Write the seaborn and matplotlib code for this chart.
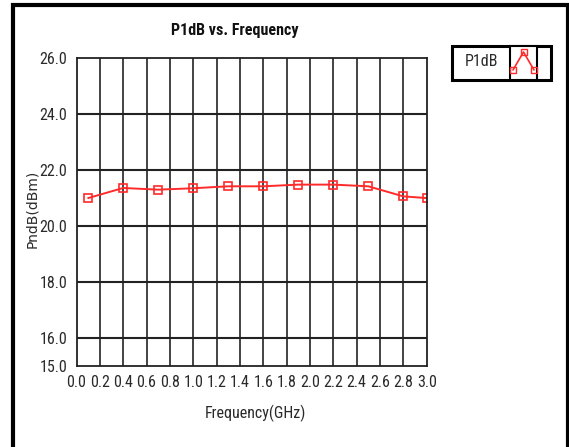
import matplotlib
matplotlib.use("Agg")
import matplotlib.pyplot as plt
import seaborn as sns
import pandas as pd
from matplotlib import font_manager as fm
from matplotlib.patches import Rectangle
from matplotlib.lines import Line2D
from matplotlib.ticker import MultipleLocator, FixedLocator

freq_ghz = [0.1, 0.4, 0.7, 1.0, 1.3, 1.6, 1.9, 2.2, 2.5, 2.8, 3.0]
p1db_dbm = [20.98, 21.34, 21.28, 21.33, 21.40, 21.40, 21.46, 21.46, 21.40, 21.04, 20.98]
x_ticks = [round(0.2 * i, 1) for i in range(16)]
y_ticks = [15.0, 16.0, 18.0, 20.0, 22.0, 24.0, 26.0]
title = "P1dB vs. Frequency"
xlabel = "Frequency(GHz)"
ylabel = "PndB(dBm)"
series_name = "P1dB"

sns.set_style("white")
plt.rcParams['font.family'] = ['Liberation Sans', 'DejaVu Sans']


def find_condensed(bold):
    cands = []
    for f in fm.fontManager.ttflist:
        isb = (f.weight in ("bold", 700) or (isinstance(f.weight, int) and f.weight >= 600))
        if isb != bold or f.style != "normal":
            continue
        narrow = ("Narrow" in f.name or "Condensed" in f.name
                  or f.stretch in ("condensed", "semi-condensed"))
        if narrow:
            cands.append(f)
    pref = ["Liberation Sans Narrow", "Roboto Condensed", "Open Sans Condensed", "DejaVu Sans"]
    for p in pref:
        for f in cands:
            if f.name.startswith(p):
                return fm.FontProperties(fname=f.fname)
    if cands:
        return fm.FontProperties(fname=cands[0].fname)
    return None


cond_reg = find_condensed(False)
cond_bold = find_condensed(True)
if cond_reg is None:
    cond_reg = fm.FontProperties(family="Liberation Sans")
    tick_size = 10.0
    xl_size = 10.5
else:
    tick_size = 11.5
    xl_size = 11.5
if cond_bold is None:
    cond_bold = fm.FontProperties(family="Liberation Sans", weight="bold")
    title_size = 9.5
else:
    title_size = 11.5

W, H = 569, 447
fig = plt.figure(figsize=(W / 100, H / 100), dpi=100)


def fx(px):
    return px / W


def fy(py):
    return 1 - py / H


ax_l, ax_r, ax_t, ax_b = 76.5, 426.7, 57.5, 365.5
ax = fig.add_axes([fx(ax_l), fy(ax_b), fx(ax_r - ax_l), (ax_b - ax_t) / H])

df = pd.DataFrame({"freq": freq_ghz, "p1db": p1db_dbm})
sns.lineplot(data=df, x="freq", y="p1db", ax=ax, color="#ff2a2a", linewidth=1.4,
             marker="s", markersize=6, markerfacecolor="none",
             markeredgecolor="#ff2a2a", markeredgewidth=1.2, legend=False)

ax.set_xlim(0, 3.0)
ax.set_ylim(15.0, 26.0)
ax.xaxis.set_major_locator(FixedLocator(x_ticks))
ax.set_xticklabels([f"{v:.1f}" for v in x_ticks])
ax.xaxis.set_minor_locator(MultipleLocator(0.04))
ax.yaxis.set_major_locator(FixedLocator(y_ticks))
ax.set_yticklabels([f"{v:.1f}" for v in y_ticks])
ax.yaxis.set_minor_locator(MultipleLocator(0.5))

for xv in x_ticks[1:-1]:
    ax.axvline(xv, color="#222222", lw=1.2, zorder=0)
for yv in [16.0, 18.0, 20.0, 22.0, 24.0]:
    ax.axhline(yv, color="#222222", lw=1.5, zorder=0)

for s in ax.spines.values():
    s.set_visible(True)
    s.set_color("#222222")
    s.set_linewidth(1.3)

ax.tick_params(axis="both", which="major", direction="out", length=5, width=1.2,
               color="#333333", labelcolor="#2a2a2a", pad=1.5)
ax.tick_params(axis="both", which="minor", direction="out", length=3, width=1.0,
               color="#333333")
for lab in ax.get_xticklabels() + ax.get_yticklabels():
    lab.set_fontproperties(cond_reg)
    lab.set_fontsize(tick_size)

ax.set_xlabel("")
ax.set_ylabel("")
fig.text(fx(255), fy(413), xlabel, ha="center", va="center", fontproperties=cond_reg,
         fontsize=xl_size, color="#2a2a2a")
fig.text(fx(32), fy(209), ylabel, ha="center", va="center", rotation=90,
         fontsize=10, color="#2a2a2a", family=["DejaVu Sans"])
fig.text(fx(235), fy(30), title, ha="center", va="center", fontproperties=cond_bold,
         fontsize=title_size, color="#111111")

# outer frame
fig.patches.append(Rectangle((fx(13), fy(470)), fx(567.5 - 13), (470 - 5.3) / H,
                             transform=fig.transFigure, fill=False,
                             edgecolor="black", linewidth=3, zorder=10))

# legend box
lx0, lx1, ly0, ly1 = 452, 551, 46, 80
fig.patches.append(Rectangle((fx(lx0), fy(ly1)), fx(lx1 - lx0), (ly1 - ly0) / H,
                             transform=fig.transFigure, facecolor="white",
                             edgecolor="black", linewidth=2.2, zorder=10))
fig.patches.append(Rectangle((fx(510), fy(ly1)), fx(27), (ly1 - ly0) / H,
                             transform=fig.transFigure, facecolor="white",
                             edgecolor="black", linewidth=1.5, zorder=11))
fig.text(fx(481), fy(62), series_name, ha="center", va="center",
         fontproperties=cond_reg, fontsize=xl_size, color="#2a2a2a", zorder=12)
icon_x = [fx(513), fx(523.5), fx(534)]
icon_y = [fy(70), fy(52), fy(70)]
fig.lines.append(Line2D(icon_x, icon_y, transform=fig.transFigure, color="#ff2a2a",
                        lw=1.2, marker="s", markersize=4, markerfacecolor="none",
                        markeredgecolor="#ff2a2a", zorder=12))

fig.savefig("out.png", dpi=100)
